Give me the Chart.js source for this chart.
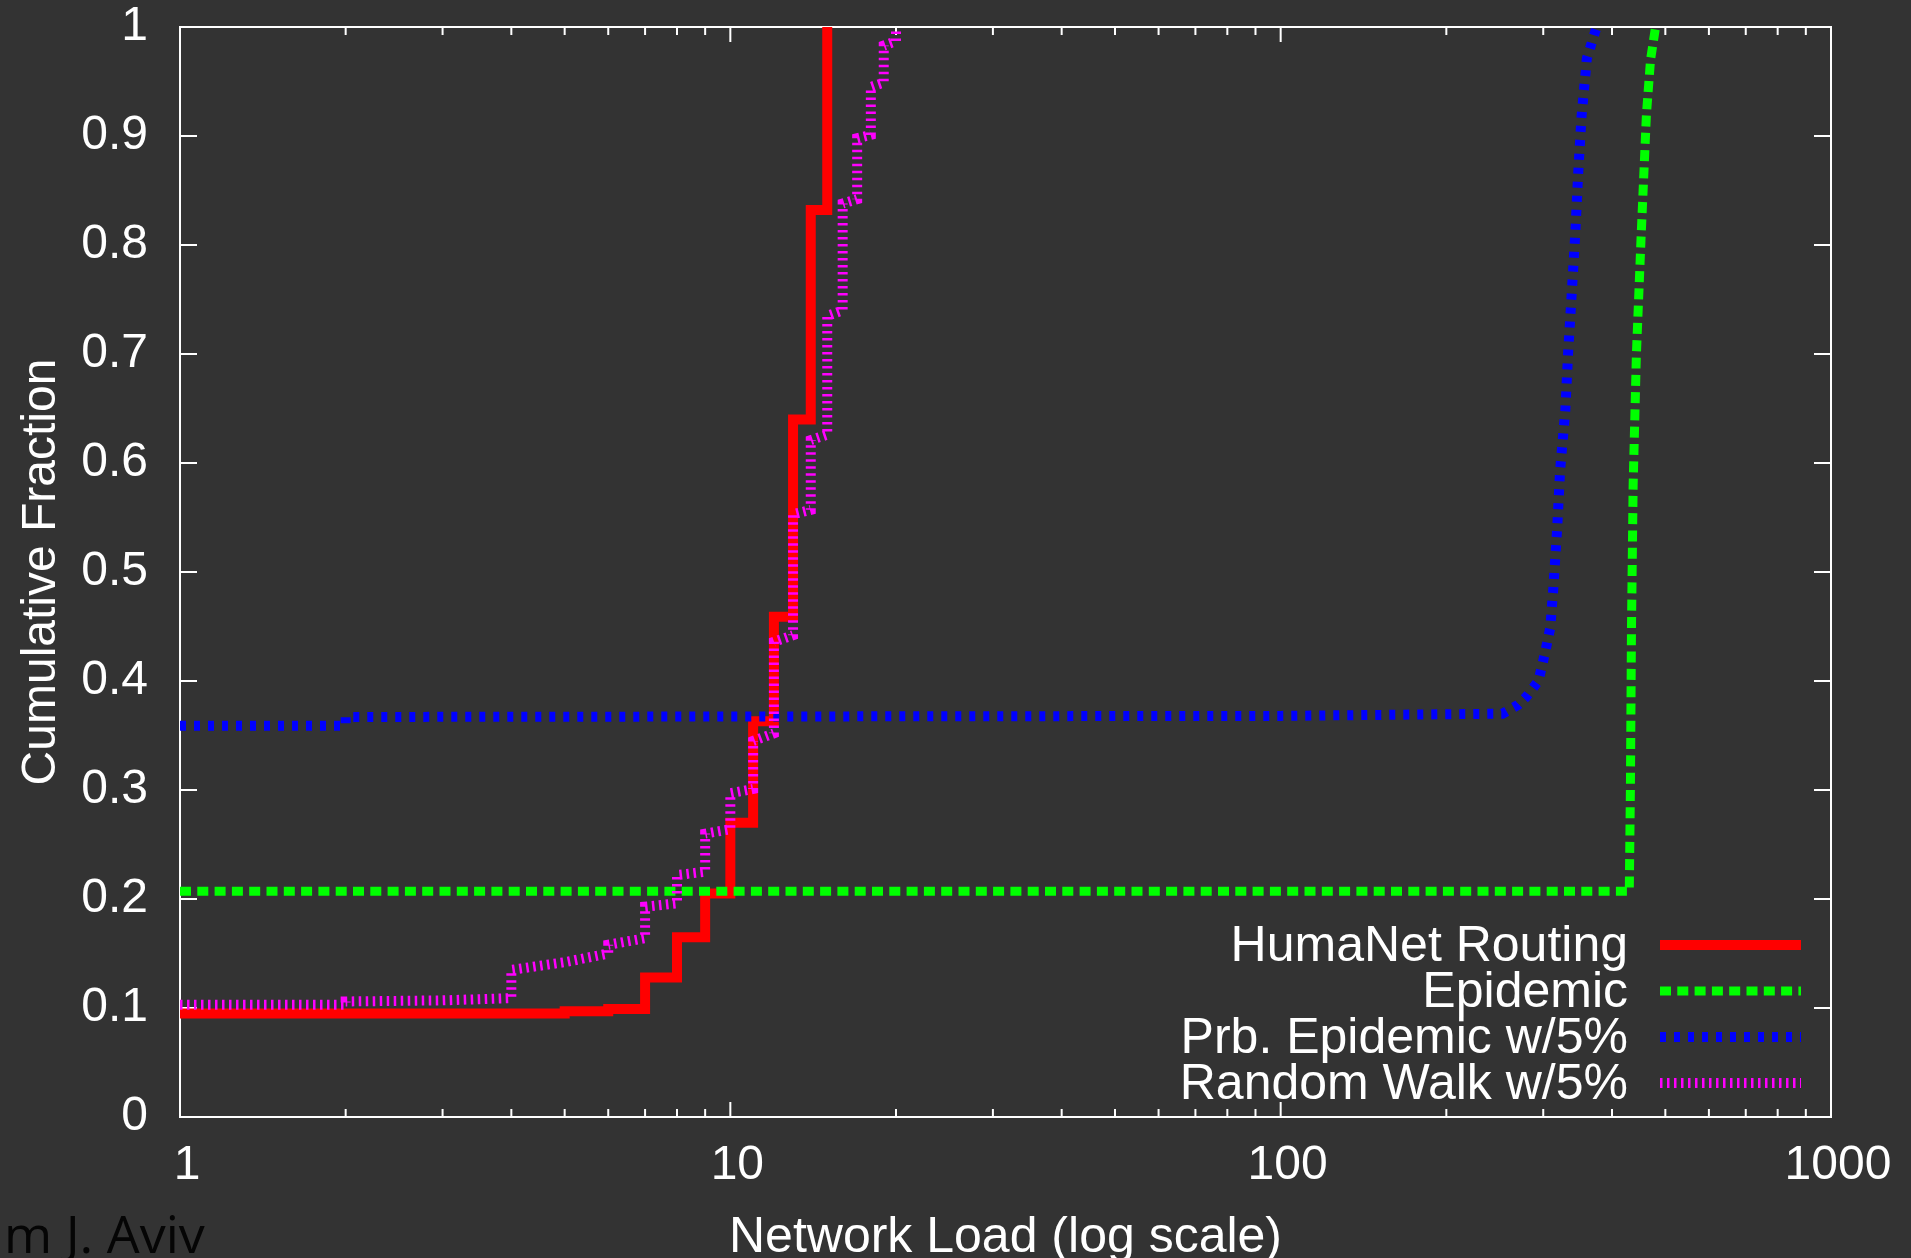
<!DOCTYPE html>
<html>
<head>
<meta charset="utf-8">
<title>Network Load CDF</title>
<script src="https://cdn.jsdelivr.net/npm/chart.js@4.4.1/dist/chart.umd.min.js"></script>
<style>
  html, body { margin: 0; padding: 0; background: #333333; overflow: hidden; }
  canvas { display: block; }
</style>
</head>
<body>
<canvas id="chart" width="1911" height="1258" style="width:1911px;height:1258px"></canvas>
<script>
//------ Data ---------------------------//
const seriesNames = ["HumaNet Routing", "Epidemic", "Prb. Epidemic w/5%", "Random Walk w/5%"];

// HumaNet Routing: step CDF, jumps at integer loads
const humanetLoad = [1, 5, 6, 7, 8, 9, 10, 11, 12, 13, 14, 15];
const humanetFrac = [0.095, 0.097, 0.099, 0.128, 0.165, 0.205, 0.270, 0.363, 0.459, 0.640, 0.832, 1.0];

// Epidemic
const epidemicLoad = [1, 430, 432, 434, 437, 443, 452, 462, 470, 480];
const epidemicFrac = [0.207, 0.207, 0.30, 0.45, 0.58, 0.70, 0.81, 0.92, 0.97, 1.0];

// Prb. Epidemic w/5%
const prbLoad = [1, 2, 2, 100, 253, 270, 280, 294, 302, 309, 313, 318, 322, 329, 333, 338, 343, 347, 352, 360, 375];
const prbFrac = [0.359, 0.359, 0.367, 0.368, 0.370, 0.378, 0.386, 0.400, 0.425, 0.449, 0.486, 0.540, 0.594, 0.648, 0.702, 0.756, 0.810, 0.863, 0.917, 0.971, 1.0];

// Random Walk w/5%
const walkLoad = [1, 2, 2, 3, 4, 4, 5, 6, 6, 7, 7, 8, 8, 9, 9, 10, 10, 11, 11, 12, 12, 13, 13, 14, 14, 15, 15, 16, 16, 17, 17, 18, 18, 19, 19, 20, 20];
const walkFrac = [0.103, 0.103, 0.106, 0.107, 0.109, 0.135, 0.142, 0.150, 0.158, 0.164, 0.193, 0.196, 0.222, 0.225, 0.260, 0.264, 0.297, 0.301, 0.345, 0.352, 0.436, 0.442, 0.553, 0.557, 0.621, 0.626, 0.735, 0.740, 0.838, 0.842, 0.898, 0.901, 0.945, 0.949, 0.983, 0.987, 1.0];

// axes
const xMajorTicks = [1, 10, 100, 1000];
const yTicks = [0, 0.1, 0.2, 0.3, 0.4, 0.5, 0.6, 0.7, 0.8, 0.9, 1];
const xTitle = "Network Load (log scale)";
const yTitle = "Cumulative Fraction";
const cornerNote = "m J. Aviv";

//------ helpers -------//
function pts(xs, ys) {
  return xs.map((x, i) => ({ x: x, y: ys[i] }));
}

// log axis ticks: decades plus 2..9 inside each decade
const xAllTicks = [];
xMajorTicks.forEach((d, i) => {
  xAllTicks.push(d);
  if (i < xMajorTicks.length - 1) {
    for (let m = 2; m <= 9; m++) xAllTicks.push(d * m);
  }
});

function isDecade(v) {
  const l = Math.log10(v);
  return Math.abs(l - Math.round(l)) < 1e-9;
}

const FAMILY = '"Liberation Sans", Arial, Helvetica, sans-serif';
const FONT = { family: FAMILY, size: 48 };
const BIG_FONT = { family: FAMILY, size: 50 };
const WHITE = "#ffffff";

//------ plugins -------//
const bgPlugin = {
  id: "bg",
  beforeDraw(chart) {
    const c = chart.ctx;
    c.save();
    c.fillStyle = "#333333";
    c.fillRect(0, 0, chart.width, chart.height);
    c.restore();
  }
};

// gnuplot style box with inward ticks
const framePlugin = {
  id: "frame",
  beforeDatasetsDraw(chart) {
    const c = chart.ctx;
    const a = chart.chartArea;
    const xs = chart.scales.x;
    const ys = chart.scales.y;
    c.save();
    c.strokeStyle = WHITE;
    c.lineWidth = 2;
    c.strokeRect(a.left, a.top, a.right - a.left, a.bottom - a.top);
    c.beginPath();
    ys.ticks.forEach(t => {
      const py = ys.getPixelForValue(t.value);
      c.moveTo(a.left, py); c.lineTo(a.left + 17, py);
      c.moveTo(a.right, py); c.lineTo(a.right - 17, py);
    });
    xs.ticks.forEach(t => {
      const px = xs.getPixelForValue(t.value);
      const len = isDecade(t.value) ? 15 : 8;
      c.moveTo(px, a.bottom); c.lineTo(px, a.bottom - len);
      c.moveTo(px, a.top); c.lineTo(px, a.top + len);
    });
    c.stroke();
    c.restore();
  }
};

// key in the lower right corner, text right aligned, sample on the right
const keyPlugin = {
  id: "key",
  afterDatasetsDraw(chart) {
    const c = chart.ctx;
    const a = chart.chartArea;
    c.save();
    c.font = BIG_FONT.size + "px " + BIG_FONT.family;
    c.fillStyle = WHITE;
    c.textAlign = "right";
    c.textBaseline = "middle";
    chart.data.datasets.forEach((ds, i) => {
      const y = a.bottom - 172 + i * 46;
      c.fillText(seriesNames[i], a.right - 203, y + 2);
      c.save();
      c.strokeStyle = ds.borderColor;
      c.lineWidth = ds.borderWidth;
      c.setLineDash(ds.borderDash || []);
      c.beginPath();
      c.moveTo(a.right - 171, y);
      c.lineTo(a.right - 30, y);
      c.stroke();
      c.restore();
    });
    // leftover caption text at the bottom left of the image
    c.font = '52px "Open Sans", "DejaVu Sans", sans-serif';
    c.fillStyle = "#050505";
    c.textAlign = "left";
    c.textBaseline = "alphabetic";
    c.fillText(cornerNote, 4, 1253);
    c.restore();
  }
};

//------ chart -------//
const ctx = document.getElementById("chart").getContext("2d");

const chart = new Chart(ctx, {
  type: "scatter",
  data: {
    datasets: [
      {
        label: seriesNames[0],
        data: pts(humanetLoad, humanetFrac),
        borderColor: "#ff0000",
        borderWidth: 10,
        stepped: "before",
        order: 4
      },
      {
        label: seriesNames[1],
        data: pts(epidemicLoad, epidemicFrac),
        borderColor: "#00ff00",
        borderWidth: 9,
        borderDash: [11, 6.3],
        order: 3
      },
      {
        label: seriesNames[2],
        data: pts(prbLoad, prbFrac),
        borderColor: "#0000ff",
        borderWidth: 10,
        borderDash: [6, 8],
        order: 2
      },
      {
        label: seriesNames[3],
        data: pts(walkLoad, walkFrac),
        borderColor: "#ff00ff",
        borderWidth: 10,
        borderDash: [2.5, 4.5],
        order: 1
      }
    ]
  },
  options: {
    responsive: false,
    animation: false,
    devicePixelRatio: 1,
    showLine: true,
    elements: {
      point: { radius: 0, hoverRadius: 0 },
      line: { tension: 0, fill: false }
    },
    layout: { padding: { top: 27, right: 80, left: 0, bottom: 0 } },
    plugins: {
      legend: { display: false },
      tooltip: { enabled: false }
    },
    scales: {
      x: {
        type: "logarithmic",
        position: "bottom",
        min: 1,
        max: 1000,
        grid: { display: false, drawTicks: false },
        border: { display: false },
        afterBuildTicks: axis => { axis.ticks = xAllTicks.map(v => ({ value: v })); },
        afterFit: axis => {
          axis.height = 141;
          axis.paddingLeft = 0;
          axis.paddingRight = 0;
        },
        ticks: {
          color: WHITE,
          font: FONT,
          padding: 20,
          labelOffset: 7,
          autoSkip: false,
          maxRotation: 0,
          callback: v => (isDecade(v) ? String(v) : "")
        },
        // bottom titles are offset by padding.bottom
        title: { display: true, text: xTitle, color: WHITE, font: BIG_FONT, padding: { top: 0, bottom: -10 } }
      },
      y: {
        min: 0,
        max: 1,
        grid: { display: false, drawTicks: false },
        border: { display: false },
        afterBuildTicks: axis => { axis.ticks = yTicks.map(v => ({ value: v })); },
        afterFit: axis => {
          axis.width = 180;
          axis.paddingTop = 0;
          axis.paddingBottom = 0;
        },
        ticks: {
          color: WHITE,
          font: FONT,
          padding: 32,
          autoSkip: false,
          callback: v => String(Number(v.toFixed(1)))
        },
        title: { display: true, text: yTitle, color: WHITE, font: FONT, padding: 13 }
      }
    }
  },
  plugins: [bgPlugin, framePlugin, keyPlugin]
});
</script>
</body>
</html>
